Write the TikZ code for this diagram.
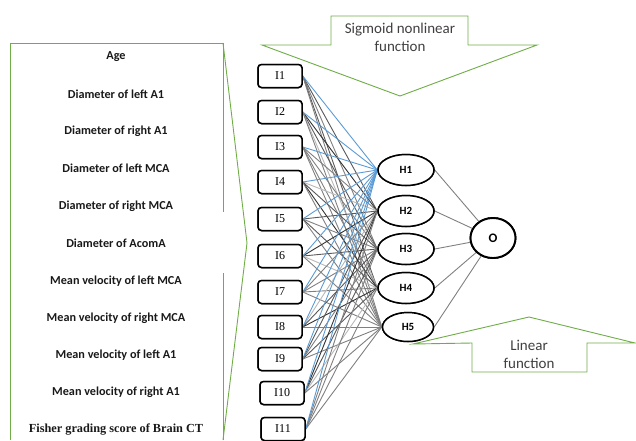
\documentclass[tikz,border=0pt]{standalone}
\usepackage{fontspec}
\setmainfont{Carlito}
\newfontfamily\timesf{Liberation Serif}
\usetikzlibrary{shapes.geometric}
\definecolor{grn}{RGB}{112,173,71}
\definecolor{blu}{RGB}{91,155,213}
\begin{document}
\begin{tikzpicture}[x=1pt,y=-1pt,
  inbox/.style={draw=black,line width=1.5pt,rounded corners=3.5pt,minimum width=44pt,minimum height=23pt,inner sep=0pt,font=\timesf\fontsize{12}{14}\selectfont},
  hid/.style={draw=black,line width=1.5pt,ellipse,minimum width=56pt,minimum height=31pt,inner sep=0pt,font=\bfseries\fontsize{11}{13}\selectfont},
  outn/.style={draw=black,line width=1.9pt,ellipse,minimum width=45pt,minimum height=40pt,inner sep=0pt,font=\bfseries\fontsize{13}{15}\selectfont},
  feat/.style={font=\bfseries\fontsize{12.2}{14}\selectfont,inner sep=0pt,text=black!90},
  callout/.style={draw=grn,line width=0.9pt,line join=miter},
  ctext/.style={font=\fontsize{15}{18}\selectfont,align=center,text=black!75,inner sep=0pt},
  e0/.style={draw=black!80,line width=0.9pt},
  e1/.style={draw=black!50,line width=0.9pt},
  e2/.style={draw=black!28,line width=0.9pt},
  e3/.style={draw=black!65,line width=0.9pt},
  eb/.style={draw=blu,line width=0.9pt},
  eo/.style={draw=black!50,line width=0.9pt}]
\useasboundingbox (0,0) rectangle (636,440);
% left green callout
\draw[callout] (10,440) -- (10,43) -- (223,43) -- (223,212);
\draw[callout] (223,273) -- (223,440);
\draw[callout] (223,43) -- (247,243) -- (223,440);
% feature labels
\node[feat] (f1) at (116,57) {Age};
\node[feat] (f2) at (116,94) {Diameter of left A1};
\node[feat] (f3) at (116,131) {Diameter of right A1};
\node[feat] (f4) at (116,168) {Diameter of left MCA};
\node[feat] (f5) at (116,206) {Diameter of right MCA};
\node[feat] (f6) at (116,243) {Diameter of AcomA};
\node[feat] (f7) at (116,281) {Mean velocity of left MCA};
\node[feat] (f8) at (116,318) {Mean velocity of right MCA};
\node[feat] (f9) at (116,355) {Mean velocity of left A1};
\node[feat] (f10) at (116,392) {Mean velocity of right A1};
\node[feat,font=\timesf\bfseries\fontsize{12.3}{14}\selectfont] (f11) at (116,430) {Fisher grading score of Brain CT};
% input nodes (positions)
\node[inbox] (I1) at (280,76) {I1};
\node[inbox] (I2) at (280,112) {I2};
\node[inbox] (I3) at (280,147) {I3};
\node[inbox] (I4) at (280,182) {I4};
\node[inbox] (I5) at (280,219) {I5};
\node[inbox] (I6) at (280,256) {I6};
\node[inbox] (I7) at (280,292) {I7};
\node[inbox] (I8) at (280,327) {I8};
\node[inbox] (I9) at (280,359) {I9};
\node[inbox] (I10) at (282,393) {I10};
\node[inbox] (I11) at (283,429) {I11};
% hidden nodes
\node[hid] (H1) at (406,170) {H1};
\node[hid] (H2) at (406,211) {H2};
\node[hid] (H3) at (406,249) {H3};
\node[hid] (H4) at (406,288) {H4};
\node[hid,minimum width=51pt,minimum height=29pt] (H5) at (408,327) {H5};
% output
\node[outn] (O) at (493,238) {O};
% edges
\foreach \i in {1,...,11}{
  \foreach \j in {2,...,5}{
    \pgfmathtruncatemacro\c{mod(\i*3+\j*5+\i*\j,4)}
    \draw[e\c] (I\i.east) -- (H\j.west);
  }
}
\foreach \i in {1,...,11}{
  \draw[eb] (I\i.east) -- (H1.west);
}
\foreach \j in {1,...,5}{
  \draw[eo] (H\j.east) -- (O);
}
% redraw nodes on top of edges
\foreach \i in {1,...,11}{\node[inbox,fill=white] at (I\i) {I\i};}
\foreach \j in {1,...,4}{\node[hid,fill=white] at (H\j) {H\j};}
\node[hid,fill=white,minimum width=51pt,minimum height=29pt] at (H5) {H5};
\node[outn,fill=white] at (O) {O};
% sigmoid callout
\draw[callout,fill=white] (331,16) -- (468,16) -- (468,45) -- (537,45) -- (400,96) -- (262,45) -- (331,45) -- cycle;
\node[ctext] (sig) at (400,37) {Sigmoid nonlinear\\function};
% linear callout
\draw[callout,fill=white] (413,344) -- (529,317) -- (635,343) -- (587,343) -- (587,372) -- (472,372) -- (472,343) -- cycle;
\node[ctext] (lin) at (529,354) {Linear\\function};
\end{tikzpicture}
\end{document}
